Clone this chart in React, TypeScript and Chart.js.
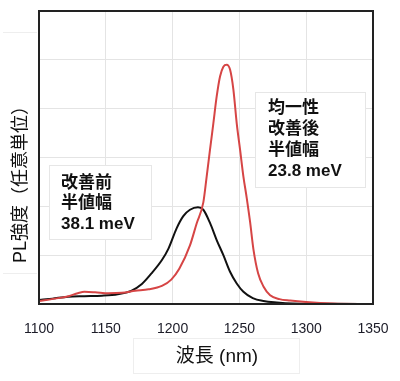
import React, { useEffect, useRef } from "react";
import { Chart, registerables } from "chart.js";

Chart.register(...registerables);

// ---- Data ----
const xMin = 1100;
const xMax = 1350;
const xTickStep = 50;
const yMin = 0;
const yMax = 6;

const beforeWavelengths = [1100, 1110, 1122, 1134, 1147, 1159, 1169, 1177, 1184, 1192, 1197, 1203, 1208, 1213, 1219, 1223, 1228, 1233, 1238, 1243, 1248, 1253, 1260, 1268, 1278, 1290, 1310, 1350];
const beforeIntensity = [0.08, 0.11, 0.15, 0.16, 0.17, 0.2, 0.27, 0.41, 0.62, 0.9, 1.14, 1.55, 1.8, 1.93, 1.98, 1.93, 1.66, 1.31, 1.0, 0.66, 0.42, 0.25, 0.12, 0.06, 0.03, 0.01, 0.005, 0];

const afterWavelengths = [1100, 1112, 1122, 1129, 1134, 1142, 1152, 1162, 1172, 1182, 1192, 1199, 1205, 1213, 1218, 1223, 1225.5, 1228, 1230.5, 1233, 1235.5, 1238, 1240.5, 1243, 1245.5, 1248, 1250.5, 1253, 1255.5, 1258, 1260.5, 1264, 1268, 1273, 1280, 1288, 1300, 1320, 1350];
const afterIntensity = [0.06, 0.11, 0.16, 0.22, 0.25, 0.24, 0.22, 0.23, 0.27, 0.3, 0.37, 0.5, 0.72, 1.2, 1.65, 2.08, 2.61, 3.16, 3.7, 4.25, 4.66, 4.86, 4.9, 4.8, 4.39, 3.7, 3.16, 2.61, 2.17, 1.68, 1.12, 0.63, 0.36, 0.18, 0.1, 0.07, 0.04, 0.01, 0];

const beforeLabelLines = ["改善前", "半値幅", "38.1 meV"];
const afterLabelLines = ["均一性", "改善後", "半値幅", "23.8 meV"];
const xTitle = "波長 (nm)";
const yTitle = "PL強度（任意単位）";

const FONT = '"Liberation Sans", "Noto Sans CJK JP", sans-serif';

function drawBox(ctx: CanvasRenderingContext2D, x: number, y: number, w: number, h: number) {
  ctx.save();
  ctx.fillStyle = "#ffffff";
  ctx.fillRect(x, y, w, h);
  ctx.strokeStyle = "#e6e6e6";
  ctx.lineWidth = 1;
  ctx.strokeRect(x + 0.5, y + 0.5, w, h);
  ctx.restore();
}

function drawLines(ctx: CanvasRenderingContext2D, lines: string[], x: number, y0: number, step: number) {
  ctx.save();
  ctx.fillStyle = "#111";
  ctx.textAlign = "left";
  ctx.textBaseline = "middle";
  lines.forEach((t, i) => {
    ctx.font = `bold 17px ${FONT}`;
    ctx.fillText(t, x, y0 + i * step);
  });
  ctx.restore();
}

const decorPlugin = {
  id: "decor",
  beforeDatasetsDraw(chart: any) {
    const ctx = chart.ctx as CanvasRenderingContext2D;
    drawBox(ctx, 49, 165, 102, 74);
    drawBox(ctx, 255, 92, 110, 95);
  },
  afterDraw(chart: any) {
    const ctx = chart.ctx as CanvasRenderingContext2D;
    const a = chart.chartArea;
    drawLines(ctx, beforeLabelLines, 61, 183, 20.5);
    drawLines(ctx, afterLabelLines, 268, 108.5, 20.8);
    ctx.save();
    ctx.strokeStyle = "#222";
    ctx.lineWidth = 2;
    ctx.strokeRect(a.left, a.top, a.right - a.left, a.bottom - a.top);
    ctx.restore();
    ctx.save();
    ctx.strokeStyle = "#eeeeee";
    ctx.lineWidth = 1;
    ctx.strokeRect(133.5, 338.5, 166, 35);
    ctx.fillStyle = "#111";
    ctx.font = `19px ${FONT}`;
    ctx.textAlign = "center";
    ctx.textBaseline = "middle";
    ctx.fillText(xTitle, 217, 357);
    ctx.restore();
    ctx.save();
    ctx.strokeStyle = "#eeeeee";
    ctx.lineWidth = 1;
    ctx.beginPath();
    ctx.moveTo(3, 32.5);
    ctx.lineTo(37, 32.5);
    ctx.moveTo(3, 273.5);
    ctx.lineTo(37, 273.5);
    ctx.stroke();
    ctx.translate(21, 180);
    ctx.rotate(-Math.PI / 2);
    ctx.fillStyle = "#111";
    ctx.font = `18px ${FONT}`;
    ctx.textAlign = "center";
    ctx.textBaseline = "middle";
    ctx.fillText(yTitle, 0, 0);
    ctx.restore();
  },
};

export default function App() {
  const ref = useRef<HTMLCanvasElement | null>(null);

  useEffect(() => {
    document.body.style.margin = "0";
    const canvas = ref.current;
    if (!canvas) return;
    const chart = new Chart(canvas, {
      type: "line",
      data: {
        datasets: [
          {
            label: "after",
            data: afterWavelengths.map((x, i) => ({ x, y: afterIntensity[i] })),
            borderColor: "#d64545",
            borderWidth: 2,
            pointRadius: 0,
            fill: false,
            cubicInterpolationMode: "monotone",
          },
          {
            label: "before",
            data: beforeWavelengths.map((x, i) => ({ x, y: beforeIntensity[i] })),
            borderColor: "#111111",
            borderWidth: 2,
            pointRadius: 0,
            fill: false,
            cubicInterpolationMode: "monotone",
          },
        ],
      },
      options: {
        animation: false,
        responsive: false,
        devicePixelRatio: 1,
        layout: { padding: { left: 0, right: 0, top: 11, bottom: 0 } },
        plugins: {
          legend: { display: false },
          tooltip: { enabled: false },
          title: { display: false },
        },
        scales: {
          x: {
            type: "linear",
            min: xMin,
            max: xMax,
            ticks: {
              stepSize: xTickStep,
              color: "#1c1c28",
              font: { family: FONT, size: 14 },
              padding: 17,
              maxRotation: 0,
              callback: (v: any) => String(v),
            },
            grid: { color: "#e4e4e4", drawTicks: false },
            border: { display: false },
            afterFit: (s: any) => {
              s.height = 77;
              s.paddingRight = 27;
              s.paddingLeft = 0;
            },
          },
          y: {
            type: "linear",
            min: yMin,
            max: yMax,
            ticks: { display: false, stepSize: 1 },
            grid: { color: "#e4e4e4", drawTicks: false },
            border: { display: false },
            afterFit: (s: any) => {
              s.width = 39;
            },
          },
        },
      },
      plugins: [decorPlugin],
    } as any);
    return () => chart.destroy();
  }, []);

  return (
    <div style={{ position: "absolute", left: 0, top: 0, width: 400, height: 381 }}>
      <canvas ref={ref} width={400} height={381} style={{ width: 400, height: 381 }} />
    </div>
  );
}
